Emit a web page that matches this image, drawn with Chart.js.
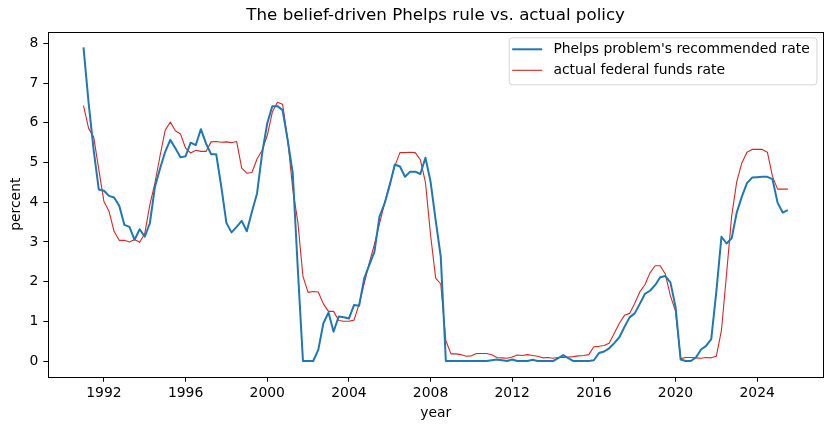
<!DOCTYPE html>
<html>
<head>
<meta charset="utf-8">
<script src="https://cdn.jsdelivr.net/npm/chart.js@4.4.1/dist/chart.umd.min.js"></script>
<style>
  html, body { margin: 0; padding: 0; background: #fff; }
  #wrap { width: 833px; height: 430px; }
</style>
</head>
<body>
<div id="wrap"><canvas id="chart" width="833" height="430"></canvas></div>
<script>
// Séries trimestrielles, premier point = 1991 T1
const startYear = 1991;

const phelpsRate = [
    7.90, 6.50, 5.30, 4.32,   // 1991
    4.29, 4.16, 4.12, 3.91,   // 1992
    3.43, 3.38, 3.05, 3.32,   // 1993
    3.13, 3.47, 4.39, 4.85,   // 1994
    5.27, 5.57, 5.36, 5.13,   // 1995
    5.16, 5.50, 5.44, 5.84,   // 1996
    5.48, 5.21, 5.21, 4.39,   // 1997
    3.48, 3.24, 3.38, 3.53,   // 1998
    3.27, 3.76, 4.22, 5.23,   // 1999
    5.99, 6.42, 6.42, 6.32,   // 2000
    5.57, 4.73, 2.30, 0.00,   // 2001
    0.00, 0.00, 0.28, 0.95,   // 2002
    1.22, 0.74, 1.12, 1.10,   // 2003
    1.07, 1.41, 1.39, 2.08,   // 2004
    2.42, 2.75, 3.64, 3.97,   // 2005
    4.43, 4.95, 4.90, 4.64,   // 2006
    4.77, 4.77, 4.71, 5.12,   // 2007
    4.52, 3.55, 2.63, 0.00,   // 2008
    0.00, 0.00, 0.00, 0.00,   // 2009
    0.00, 0.00, 0.00, 0.00,   // 2010
    0.02, 0.04, 0.02, 0.00,   // 2011
    0.04, 0.00, 0.00, 0.00,   // 2012
    0.03, 0.00, 0.00, 0.00,   // 2013
    0.00, 0.07, 0.15, 0.07,   // 2014
    0.00, 0.00, 0.00, 0.00,   // 2015
    0.02, 0.20, 0.24, 0.32,   // 2016
    0.45, 0.60, 0.86, 1.10,   // 2017
    1.20, 1.44, 1.69, 1.77,   // 2018
    1.91, 2.11, 2.14, 1.98,   // 2019
    1.37, 0.04, 0.00, 0.00,   // 2020
    0.09, 0.29, 0.38, 0.55,   // 2021
    1.75, 3.13, 2.96, 3.09,   // 2022
    3.74, 4.14, 4.48, 4.62,   // 2023
    4.63, 4.64, 4.64, 4.58,   // 2024
    3.99, 3.74, 3.80          // 2025
];

const fedFundsRate = [
    6.43, 5.86, 5.64, 4.82,   // 1991
    4.02, 3.77, 3.26, 3.04,   // 1992
    3.04, 3.00, 3.06, 2.99,   // 1993
    3.21, 3.94, 4.49, 5.17,   // 1994
    5.81, 6.02, 5.80, 5.72,   // 1995
    5.36, 5.24, 5.31, 5.28,   // 1996
    5.28, 5.52, 5.53, 5.51,   // 1997
    5.52, 5.50, 5.53, 4.86,   // 1998
    4.73, 4.75, 5.09, 5.31,   // 1999
    5.68, 6.27, 6.52, 6.47,   // 2000
    5.59, 4.33, 3.50, 2.13,   // 2001
    1.73, 1.75, 1.74, 1.44,   // 2002
    1.25, 1.25, 1.02, 1.00,   // 2003
    1.00, 1.03, 1.43, 1.95,   // 2004
    2.47, 2.94, 3.46, 3.98,   // 2005
    4.46, 4.91, 5.25, 5.25,   // 2006
    5.26, 5.25, 5.07, 4.50,   // 2007
    3.18, 2.09, 1.94, 0.51,   // 2008
    0.18, 0.18, 0.16, 0.12,   // 2009
    0.13, 0.19, 0.19, 0.19,   // 2010
    0.16, 0.09, 0.08, 0.07,   // 2011
    0.10, 0.15, 0.14, 0.16,   // 2012
    0.14, 0.12, 0.08, 0.09,   // 2013
    0.07, 0.09, 0.09, 0.10,   // 2014
    0.11, 0.13, 0.14, 0.16,   // 2015
    0.36, 0.37, 0.39, 0.45,   // 2016
    0.70, 0.95, 1.15, 1.20,   // 2017
    1.45, 1.74, 1.92, 2.22,   // 2018
    2.40, 2.40, 2.19, 1.64,   // 2019
    1.26, 0.06, 0.09, 0.09,   // 2020
    0.08, 0.07, 0.09, 0.08,   // 2021
    0.12, 0.77, 2.19, 3.65,   // 2022
    4.52, 4.99, 5.26, 5.33,   // 2023
    5.33, 5.33, 5.26, 4.65,   // 2024
    4.33, 4.33, 4.33          // 2025
];

const yearTicks = [1992, 1996, 2000, 2004, 2008, 2012, 2016, 2020, 2024];
const percentTicks = [0, 1, 2, 3, 4, 5, 6, 7, 8];
const chartTitle = 'The belief-driven Phelps rule vs. actual policy';

// x = date du trimestre en années décimales
const toPoints = (values) => values.map((v, i) => ({ x: startYear + i / 4, y: v }));

const FONT = 'DejaVu Sans';
Chart.defaults.font.family = FONT;
Chart.defaults.font.size = 13.9;
Chart.defaults.color = '#000';

// Titre centré sur la zone du graphique, cadre complet et légende façon matplotlib
const frameAndLegend = {
    id: 'frameAndLegend',
    afterDatasetsDraw(chart) {
        const ctx = chart.ctx;
        const a = chart.chartArea;
        ctx.save();

        ctx.font = '16.7px ' + FONT;
        ctx.fillStyle = '#000';
        ctx.textAlign = 'center';
        ctx.textBaseline = 'middle';
        ctx.fillText(chartTitle, (a.left + a.right) / 2, 16);

        ctx.strokeStyle = '#000';
        ctx.lineWidth = 1;
        ctx.strokeRect(Math.round(a.left) + 0.5, Math.round(a.top) + 0.5,
            Math.round(a.right - a.left), Math.round(a.bottom - a.top));

        // légende
        ctx.font = '13.9px ' + FONT;
        const sets = chart.data.datasets;
        const textW = Math.max(...sets.map(d => ctx.measureText(d.label).width));
        const right = a.right - 6.6;
        const top = a.top + 5.6;
        const w = 44.7 + textW + 6.7;
        const h = 47;
        const left = right - w;
        ctx.beginPath();
        ctx.roundRect(left + 0.5, top + 0.5, w, h, 3);
        ctx.fillStyle = 'rgba(255,255,255,0.8)';
        ctx.fill();
        ctx.strokeStyle = 'rgba(204,204,204,0.8)';
        ctx.lineWidth = 1;
        ctx.stroke();
        sets.forEach((d, k) => {
            const y = top + 12 + k * 21;
            ctx.beginPath();
            ctx.moveTo(left + 3.5, y);
            ctx.lineTo(left + 33.5, y);
            ctx.strokeStyle = d.borderColor;
            ctx.lineWidth = d.borderWidth;
            ctx.stroke();
            ctx.fillStyle = '#000';
            ctx.textBaseline = 'middle';
            ctx.textAlign = 'left';
            ctx.fillText(d.label, left + 44.7, y + 0.5);
        });
        ctx.restore();
    }
};

const chart = new Chart(document.getElementById('chart'), {
    type: 'line',
    data: {
        datasets: [{
            label: "Phelps problem's recommended rate",
            data: toPoints(phelpsRate),
            borderColor: '#1f77b4',
            borderWidth: 2,
            pointRadius: 0,
            tension: 0,
            borderJoinStyle: 'round'
        }, {
            label: 'actual federal funds rate',
            data: toPoints(fedFundsRate),
            borderColor: '#d62728',
            borderWidth: 1.1,
            pointRadius: 0,
            tension: 0,
            borderJoinStyle: 'round'
        }]
    },
    options: {
        responsive: false,
        animation: false,
        devicePixelRatio: 1,
        layout: { padding: { left: 0, right: 10, top: 31.7, bottom: 0 } },
        plugins: {
            legend: { display: false },
            tooltip: { enabled: false },
            title: { display: false }
        },
        scales: {
            x: {
                type: 'linear',
                min: 1989.275,
                max: 2027.225,
                afterFit: (s) => { s.height = 53.3; },
                afterBuildTicks: (s) => { s.ticks = yearTicks.map(v => ({ value: v })); },
                ticks: {
                    callback: (v) => String(v),
                    padding: 3,
                    maxRotation: 0,
                    autoSkip: false
                },
                grid: { drawOnChartArea: false, drawTicks: true, tickLength: 5, color: '#000', lineWidth: 1 },
                border: { display: false },
                title: { display: true, text: 'year', padding: { top: 0, bottom: 8.5 } }
            },
            y: {
                min: -0.395,
                max: 8.295,
                afterFit: (s) => { s.width = 48.3; },
                afterBuildTicks: (s) => { s.ticks = percentTicks.map(v => ({ value: v })); },
                ticks: { callback: (v) => String(v), padding: 5 },
                grid: { drawOnChartArea: false, drawTicks: true, tickLength: 5, color: '#000', lineWidth: 1 },
                border: { display: false },
                title: { display: true, text: 'percent', padding: { top: 8, bottom: 0 } }
            }
        }
    },
    plugins: [frameAndLegend]
});
</script>
</body>
</html>
